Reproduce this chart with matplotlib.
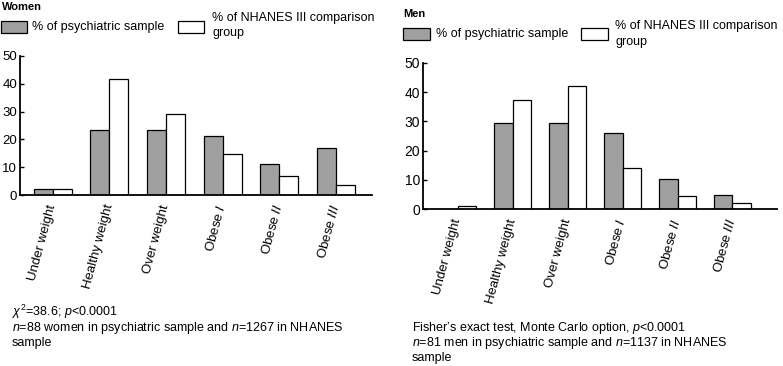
import matplotlib
matplotlib.use("Agg")
import matplotlib.pyplot as plt
import numpy as np

plt.rcParams['font.family'] = ['Liberation Sans', 'DejaVu Sans']
plt.rcParams['mathtext.fontset'] = 'custom'
plt.rcParams['mathtext.rm'] = 'Liberation Sans'
plt.rcParams['mathtext.it'] = 'Liberation Sans:italic'
plt.rcParams['mathtext.bf'] = 'Liberation Sans:bold'

categories = ["Under weight", "Healthy weight", "Over weight",
              r"Obese $\mathit{I}$", r"Obese $\mathit{II}$", r"Obese $\mathit{III}$"]
series_names = ["% of psychiatric sample", "% of NHANES III comparison\ngroup"]

women_psych = [2.0, 23.5, 23.5, 21.3, 11.0, 17.0]
women_nhanes = [2.2, 41.8, 29.1, 14.8, 6.9, 3.5]
men_psych = [0.0, 29.3, 29.6, 25.9, 10.2, 4.9]
men_nhanes = [1.0, 37.4, 42.0, 14.0, 4.5, 2.0]

yticks = [0, 10, 20, 30, 40, 50]

women_note = ["$\\chi^{2}$=38.6; $p$<0.0001",
              "$n$=88 women in psychiatric sample and $n$=1267 in NHANES",
              "sample"]
men_note = ["Fisher’s exact test, Monte Carlo option, $p$<0.0001",
            "$n$=81 men in psychiatric sample and $n$=1137 in NHANES",
            "sample"]

W, H = 783, 366
fig = plt.figure(figsize=(W / 100, H / 100), dpi=100)

GRAY = '#a0a0a0'


def make_panel(left, right, bottom, top, psych, nhanes, xlim, fs, xfs):
    ax = fig.add_axes([left / W, 1 - bottom / H, (right - left) / W, (bottom - top) / H])
    x = np.arange(len(categories))
    bw = 0.335
    ax.bar(x - bw / 2, psych, bw, color=GRAY, edgecolor='black', linewidth=0.9)
    ax.bar(x + bw / 2, nhanes, bw, color='white', edgecolor='black', linewidth=0.9)
    ax.set_ylim(0, 50)
    ax.set_xlim(*xlim)
    ax.set_yticks(yticks)
    ax.set_yticklabels([str(t) for t in yticks], fontsize=fs)
    ax.tick_params(axis='y', direction='in', length=3, width=1, pad=2)
    ax.set_xticks(x)
    ax.set_xticklabels(categories, rotation=75, ha='right', va='center',
                       rotation_mode='anchor', fontsize=xfs)
    ax.tick_params(axis='x', length=0, pad=7)
    for s in ['top', 'right']:
        ax.spines[s].set_visible(False)
    for s in ['left', 'bottom']:
        ax.spines[s].set_linewidth(1.3)
    return ax


make_panel(20, 372, 195, 56, women_psych, women_nhanes, (-0.58, 5.64), 9.5, 9.5)
make_panel(423, 777, 209.3, 62.7, men_psych, men_nhanes, (-0.63, 5.81), 10, 9.5)


def fx(px):
    return px / W


def fy(py):
    return 1 - py / H


def legend_block(x0, ytop, patch_w, patch_h, x_text1, x_patch2, x_text2, ytext2_top, ls):
    fig.patches.append(plt.Rectangle((fx(x0), fy(ytop + patch_h)), patch_w / W, patch_h / H,
                                     transform=fig.transFigure, facecolor=GRAY,
                                     edgecolor='black', linewidth=0.9))
    fig.text(fx(x_text1), fy(ytop + patch_h / 2), series_names[0], fontsize=9,
             ha='left', va='center')
    fig.patches.append(plt.Rectangle((fx(x_patch2), fy(ytop + patch_h)), patch_w / W, patch_h / H,
                                     transform=fig.transFigure, facecolor='white',
                                     edgecolor='black', linewidth=0.9))
    fig.text(fx(x_text2), fy(ytext2_top), series_names[1], fontsize=9,
             ha='left', va='top', linespacing=ls)


# Women header
fig.text(fx(2), fy(7), "Women", fontsize=8, fontweight='bold', ha='left', va='center')
legend_block(1, 21, 26, 12, 32, 178, 212, 12, 1.32)

# Men header
fig.text(fx(403), fy(14), "Men", fontsize=8, fontweight='bold', ha='left', va='center')
legend_block(403, 28, 27, 12, 436, 581, 615, 20, 1.45)

# Footnotes (baselines 15 px apart)
for i, line in enumerate(women_note):
    fig.text(fx(12), fy(316 + 15 * i), line, fontsize=9, ha='left', va='baseline')
for i, line in enumerate(men_note):
    fig.text(fx(412), fy(331 + 15 * i), line, fontsize=9, ha='left', va='baseline')

fig.savefig("out.png", dpi=100)
